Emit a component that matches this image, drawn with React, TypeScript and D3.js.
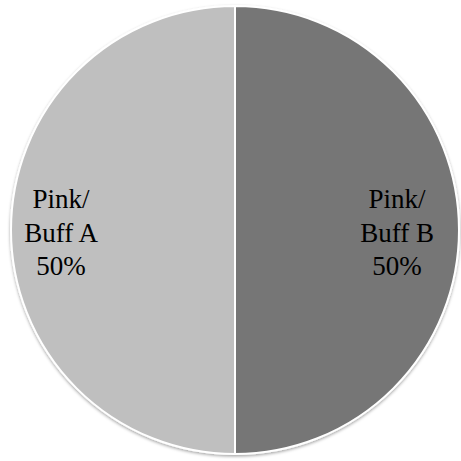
import React, { useEffect, useRef } from 'react';
import * as d3 from 'd3';

const categories = ['Pink/ Buff A', 'Pink/ Buff B'];
const labelLines = [['Pink/', 'Buff A'], ['Pink/', 'Buff B']];
const values = [50, 50];
const colors = ['#bfbfbf', '#767676'];

interface Slice {
  name: string;
  lines: string[];
  value: number;
  color: string;
}

const data: Slice[] = categories.map((c, i) => ({
  name: c,
  lines: labelLines[i],
  value: values[i],
  color: colors[i],
}));

const App: React.FC = () => {
  const svgRef = useRef<SVGSVGElement>(null);
  const width = 461;
  const height = 461;

  useEffect(() => {
    if (!svgRef.current) return;
    const svg = d3.select(svgRef.current);
    svg.selectAll('*').remove();

    const cx = 235;
    const cy = 230;
    const radius = 224;

    // soft shadow round the pie
    const defs = svg.append('defs');
    const filter = defs.append('filter')
      .attr('id', 'shadow')
      .attr('x', '-10%')
      .attr('y', '-10%')
      .attr('width', '120%')
      .attr('height', '120%');
    filter.append('feDropShadow')
      .attr('dx', 0)
      .attr('dy', 1.5)
      .attr('stdDeviation', 1.5)
      .attr('flood-color', '#000')
      .attr('flood-opacity', 0.35);

    const pie = d3.pie<Slice>()
      .sort(null)
      .value(d => d.value)
      .startAngle(Math.PI)
      .endAngle(Math.PI * 3);

    const arc = d3.arc<d3.PieArcDatum<Slice>>()
      .innerRadius(0)
      .outerRadius(radius);

    const labelArc = d3.arc<d3.PieArcDatum<Slice>>()
      .innerRadius(168)
      .outerRadius(168);

    const g = svg.append('g')
      .attr('transform', `translate(${cx},${cy})`);

    const arcs = pie(data);

    g.append('g')
      .attr('filter', 'url(#shadow)')
      .selectAll('path')
      .data(arcs)
      .enter()
      .append('path')
      .attr('d', arc)
      .attr('fill', d => d.data.color)
      .attr('stroke', '#ffffff')
      .attr('stroke-width', 2);

    const fontSize = 27;
    const lineHeight = 33.5;

    const labels = g.selectAll('text.label')
      .data(arcs)
      .enter()
      .append('text')
      .attr('class', 'label')
      .attr('text-anchor', 'middle')
      .attr('font-family', '"Liberation Serif", serif')
      .attr('font-size', fontSize)
      .attr('fill', '#000')
      .attr('transform', d => {
        const [x, y] = labelArc.centroid(d);
        return `translate(${x - 6},${y})`;
      });

    labels.each(function (d) {
      const t = d3.select(this);
      const lines = [...d.data.lines, `${d.data.value}%`];
      lines.forEach((ln, i) => {
        t.append('tspan')
          .attr('x', 0)
          .attr('y', -22 + i * lineHeight)
          .text(ln);
      });
    });
  }, []);

  return (
    <svg
      ref={svgRef}
      width={width}
      height={height}
      style={{ position: 'absolute', left: 0, top: 0, background: '#ffffff' }}
    />
  );
};

export default App;
